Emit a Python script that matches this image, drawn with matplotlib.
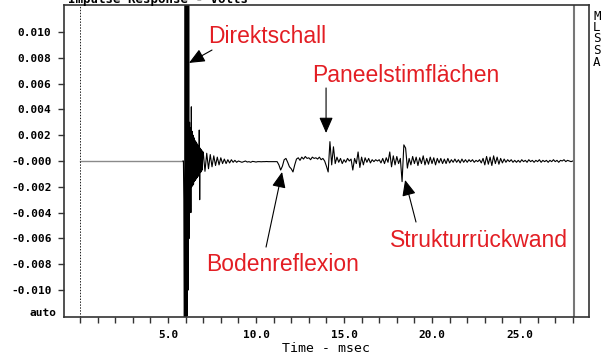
import numpy as np
import matplotlib.pyplot as plt
from matplotlib.ticker import MultipleLocator, FixedLocator

# impulse response, values in mV
# pre-trigger part (flat, drawn grey)
pre_t = [0.0, 5.85]
pre_v = [0.0, 0.0]

# direct sound region, 0.025 ms steps from 5.85 ms
dense_start = 5.85
dense_step = 0.025
dense_v = [
    0.0, 0.0, -3.0, -15.0, -9.0, 14.0, -15.0, 15.0, -14.0, 15.0,
    -12.0, 14.0, -10.0, 13.0, -6.0, 3.0, -2.5, 2.6, -4.0, 4.2,
    -2.0, 2.3, -1.9, 2.0, -1.8, 1.8, -1.6, 1.6, -1.5, 1.5,
    -1.4, 1.4, -1.3, 1.3, -1.2, 1.2, -1.1, 2.4, -3.0, 1.0,
    -0.9, 0.9, -0.8, 0.8, -0.7, 0.7,
]

# rest of the response, 0.1 ms steps from 7.0 ms
coarse_start = 7.0
coarse_step = 0.1
coarse_v = [
    0.7, -0.8, 0.6, -0.6, 0.5, -0.45, 0.4, -0.35, 0.3, -0.3,       # 7
    0.25, -0.2, 0.15, -0.2, 0.1, -0.15, 0.1, -0.1, 0.05, -0.1,     # 8
    0.0, -0.05, -0.1, -0.05, 0.0, -0.08, -0.05, -0.1, -0.03, -0.05,  # 9
    -0.08, -0.05, -0.05, -0.06, -0.05, -0.05, -0.04, -0.05, -0.05, -0.05,  # 10
    -0.05, -0.05, -0.05, -0.3, -0.7, -0.4, 0.1, 0.2, -0.1, -0.45,  # 11
    -0.6, -0.85, -0.3, 0.15, 0.25, 0.05, 0.3, 0.15, 0.35, 0.2,     # 12
    0.25, 0.1, 0.3, 0.2, 0.25, 0.15, 0.3, 0.1, 0.2, 0.0,           # 13
    -0.4, -0.85, 1.5, -0.3, 1.1, -0.2, 0.3, -0.1, 0.2, -0.2,       # 14
    0.1, -0.1, 0.2, 0.0, 0.15, -0.7, 0.2, -0.2, 0.7, -0.5,         # 15
    0.3, -0.3, 0.25, -0.1, 0.2, -0.15, 0.1, -0.05, 0.1, 0.0,       # 16
    0.1, -0.15, 0.2, -0.2, 0.25, -0.1, 0.7, -0.45, 0.4, -0.3,      # 17
    0.35, -0.2, 0.2, -1.6, 1.25, 1.0, -0.55, 0.2, -0.3, 0.35,      # 18
    -0.2, 0.3, -0.35, 0.25, -0.2, 0.4, -0.3, 0.2, -0.25, 0.3,      # 19
    -0.2, 0.25, -0.3, 0.2, -0.15, 0.2, -0.2, 0.15, -0.2, 0.2,      # 20
    -0.15, 0.1, -0.1, 0.15, -0.1, 0.1, -0.15, 0.15, -0.1, 0.1,     # 21
    -0.1, 0.1, -0.05, 0.1, -0.1, 0.05, -0.05, 0.1, -0.15, 0.2,     # 22
    -0.3, 0.35, -0.25, 0.3, -0.35, 0.4, -0.2, 0.3, -0.25, 0.2,     # 23
    -0.15, 0.15, -0.1, 0.1, -0.05, 0.1, -0.1, 0.05, -0.1, 0.05,    # 24
    -0.1, 0.1, -0.05, 0.05, -0.1, 0.1, -0.05, 0.05, -0.1, 0.05,    # 25
    -0.05, 0.1, -0.1, 0.05, -0.05, 0.05, -0.1, 0.05, -0.05, 0.1,   # 26
    -0.05, 0.05, -0.1, 0.05, 0.0, 0.1, -0.05, 0.05, 0.0, -0.05,    # 27
    0.0,
]

end_time = 28.07
y_ticks = [-0.010, -0.008, -0.006, -0.004, -0.002, 0.0,
           0.002, 0.004, 0.006, 0.008, 0.010]
x_major = [5, 10, 15, 20, 25]

# (text, text pos, arrow tail, arrow tip) in ms / V
notes = [
    ("Direktschall", (7.27, 0.00915), (7.5, 0.0086), (6.19, 0.0076)),
    ("Paneelstimflächen", (13.18, 0.00612), (13.98, 0.00566), (13.98, 0.00217)),
    ("Bodenreflexion", (7.16, -0.0085), (10.57, -0.00667), (11.48, -0.00085)),
    ("Strukturrückwand", (17.61, -0.00667), (19.09, -0.00473), (18.47, -0.00147)),
]

t_dense = dense_start + dense_step * np.arange(len(dense_v))
t_coarse = coarse_start + coarse_step * np.arange(len(coarse_v))
t_sig = np.concatenate([t_dense, t_coarse])
v_sig = np.concatenate([dense_v, coarse_v]) / 1000.0

fig = plt.figure(figsize=(6.03, 3.58), dpi=100)
ax = fig.add_axes([64 / 603, 41 / 358, 525 / 603, 312 / 358])

ax.plot(pre_t, np.array(pre_v) / 1000.0, color="#8a8a8a", lw=1.0)
ax.plot(t_sig, v_sig, color="black", lw=0.8)
ax.axvline(0, color="#222222", lw=0.7, ls=(0, (1.5, 1.5)))
ax.axvline(end_time, color="#777777", lw=1.5)

ax.set_xlim(-0.91, 28.92)
ax.set_ylim(-0.01209, 0.01209)

mono = "DejaVu Sans Mono"
ax.yaxis.set_major_locator(FixedLocator(y_ticks))
ax.set_yticklabels(["-0.000" if v == 0 else f"{v:.3f}" for v in y_ticks])
ax.xaxis.set_major_locator(FixedLocator(x_major))
ax.xaxis.set_minor_locator(MultipleLocator(1))
ax.set_xticklabels([f"{v:.1f}" for v in x_major])
for lab in ax.get_yticklabels() + ax.get_xticklabels():
    lab.set_fontfamily(mono)
    lab.set_fontweight("bold")
    lab.set_fontsize(8)
ax.tick_params(axis="both", which="both", direction="out", length=4,
               width=1.0, color="#333333")
ax.tick_params(axis="y", pad=5)
ax.tick_params(axis="x", pad=5)
for s in ax.spines.values():
    s.set_color("#333333")
    s.set_linewidth(1.2)

ax.text(-0.015, 0.0125, "auto", transform=ax.transAxes, ha="right",
        va="center", fontfamily=mono, fontweight="bold", fontsize=8)
ax.set_xlabel("Time - msec", fontfamily=mono, fontsize=9.5, labelpad=2)
fig.text(68 / 603, 1 - 3 / 358, "Impulse Response - Volts", ha="left",
         va="baseline", fontfamily=mono, fontweight="bold", fontsize=9)

for i, ch in enumerate("MLSSA"):
    fig.text(597 / 603, 1 - (16 + 11.5 * i) / 358, ch, ha="center",
             va="center", fontfamily=mono, fontsize=9)

for label, tpos, tail, tip in notes:
    ax.text(tpos[0], tpos[1], label, color="#e31e24", fontsize=16.5,
            fontfamily="Liberation Sans", ha="left", va="baseline")
    ax.annotate("", xy=tip, xytext=tail,
                arrowprops=dict(arrowstyle="-|>,head_length=0.8,head_width=0.35",
                                color="black", lw=0.8, mutation_scale=12,
                                shrinkA=0, shrinkB=0))

fig.savefig("out.png", dpi=100)
